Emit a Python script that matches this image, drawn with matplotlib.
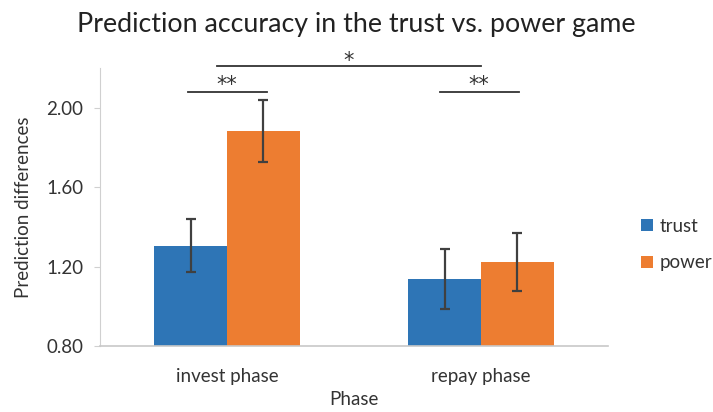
import matplotlib
matplotlib.use("Agg")
import matplotlib.pyplot as plt
import numpy as np

plt.rcParams['font.family'] = ['Lato', 'DejaVu Sans']

categories = ["invest phase", "repay phase"]
series_names = ["trust", "power"]
trust_vals = [1.306, 1.138]
power_vals = [1.884, 1.223]
trust_err = [0.135, 0.152]
power_err = [0.158, 0.145]
yticks = [0.80, 1.20, 1.60, 2.00]

blue = "#2E75B6"
orange = "#ED7D31"
errc = "#404040"

fig = plt.figure(figsize=(7.13, 4.12), dpi=100)
ax = fig.add_axes([0.1403, 0.1602, 0.7125, 0.674])

x = np.arange(len(categories))
w = 0.287
ax.bar(x - w/2, trust_vals, w, color=blue, label=series_names[0], zorder=2)
ax.bar(x + w/2, power_vals, w, color=orange, label=series_names[1], zorder=2)
ekw = dict(fmt='none', ecolor=errc, elinewidth=1.6, capsize=3.5, capthick=1.6, zorder=3)
ax.errorbar(x - w/2, trust_vals, yerr=trust_err, **ekw)
ax.errorbar(x + w/2, power_vals, yerr=power_err, **ekw)

ax.set_xlim(-0.5, 1.5)
ax.set_ylim(0.80, 2.20)
ax.set_yticks(yticks)
ax.set_yticklabels([f"{v:.2f}" for v in yticks])
ax.set_xticks(x)
ax.set_xticklabels(categories)
ax.tick_params(axis='y', labelsize=13.5, colors="#d0d0d0", labelcolor="#333333", length=4, width=0.8, pad=8)
ax.tick_params(axis='x', labelsize=13.5, length=0, labelcolor="#333333", pad=16)

for s in ['top', 'right']:
    ax.spines[s].set_visible(False)
ax.spines['left'].set_color("#d0d0d0")
ax.spines['bottom'].set_color("#c8c8c8")
ax.spines['bottom'].set_linewidth(1.2)

ax.set_ylabel("Prediction differences", fontsize=13.5, color="#333333", labelpad=10)
ax.set_xlabel("Phase", fontsize=13.5, color="#333333", labelpad=4)

fig.text(0.5, 0.94, "Prediction accuracy in the trust vs. power game",
         ha='center', va='center', fontsize=19.3, color="#222222")

# significance annotations
lc = "#333333"
sf = ['DejaVu Sans']
ax.plot([-0.04, 1.0], [2.212, 2.212], color=lc, lw=1.3, clip_on=False)
ax.text(0.48, 2.238, "*", ha='center', va='center', fontsize=15, color=lc, clip_on=False, family=sf)
ax.plot([-0.154, 0.157], [2.082, 2.082], color=lc, lw=1.3, clip_on=False)
ax.text(0.0, 2.115, "**", ha='center', va='center', fontsize=15, color=lc, clip_on=False, family=sf)
ax.plot([0.839, 1.15], [2.082, 2.082], color=lc, lw=1.3, clip_on=False)
ax.text(0.99, 2.115, "**", ha='center', va='center', fontsize=15, color=lc, clip_on=False, family=sf)

leg = ax.legend(loc='center left', bbox_to_anchor=(1.04, 0.365), frameon=False,
                fontsize=13.5, handlelength=0.6, handleheight=0.6, handletextpad=0.35,
                labelspacing=1.05, borderpad=0.2)
for t in leg.get_texts():
    t.set_color("#333333")

fig.savefig("out.png", dpi=100)
